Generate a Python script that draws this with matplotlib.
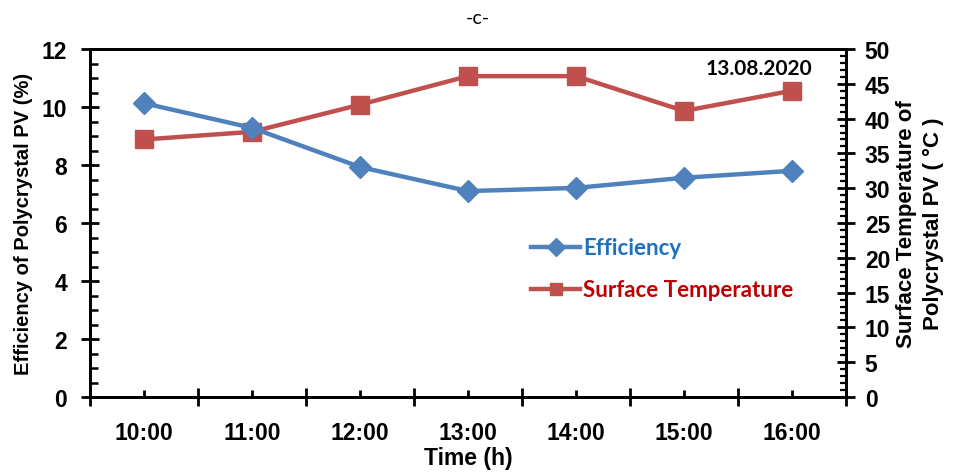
import matplotlib
matplotlib.use("Agg")
import matplotlib.pyplot as plt
from matplotlib.ticker import MultipleLocator, FixedLocator, NullFormatter

times = ["10:00", "11:00", "12:00", "13:00", "14:00", "15:00", "16:00"]
efficiency = [10.13, 9.28, 7.93, 7.10, 7.21, 7.56, 7.80]
surface_temp = [37.0, 38.1, 42.0, 46.1, 46.1, 41.1, 44.0]

plt.rcParams['font.family'] = ['Liberation Sans', 'DejaVu Sans']

fig = plt.figure(figsize=(9.55, 4.77), dpi=100)
ax = fig.add_axes([90/955, 1-398/477, (846-90)/955, (398-50)/477])
ax2 = ax.twinx()

x = list(range(len(times)))
blue = '#4F81BD'
red = '#C0504D'

l1, = ax.plot(x, efficiency, color=blue, lw=3.2, marker='D', ms=11, label='Efficiency', zorder=3)
l2, = ax2.plot(x, surface_temp, color=red, lw=3.2, marker='s', ms=13, label='Surface Temperature', zorder=3)

ax.set_xlim(-0.5, len(times) - 0.5)
ax.set_ylim(0, 12)
ax2.set_ylim(0, 50)

# x ticks: major at boundaries (inout), minor at centers (in) with labels
ax.xaxis.set_major_locator(FixedLocator([i - 0.5 for i in range(len(times) + 1)]))
ax.xaxis.set_major_formatter(NullFormatter())
ax.xaxis.set_minor_locator(FixedLocator(x))
ax.set_xticklabels(times, minor=True)
ax.tick_params(axis='x', which='major', direction='inout', length=13, width=2)
ax.tick_params(axis='x', which='minor', direction='in', length=5, width=2, pad=17,
               labelsize=16.5)
for t in ax.get_xticklabels(minor=True):
    t.set_fontweight('bold')

ax.yaxis.set_major_locator(MultipleLocator(2))
ax.yaxis.set_minor_locator(MultipleLocator(0.5))
ax.tick_params(axis='y', which='major', direction='inout', length=13, width=2, labelsize=16.5, pad=10)
ax.tick_params(axis='y', which='minor', direction='in', length=5.5, width=1.8)
for t in ax.get_yticklabels():
    t.set_fontweight('bold')

ax2.yaxis.set_major_locator(MultipleLocator(5))
ax2.yaxis.set_minor_locator(MultipleLocator(1))
ax2.tick_params(axis='y', which='major', direction='inout', length=13, width=2, labelsize=16.5, pad=7)
ax2.tick_params(axis='y', which='minor', direction='in', length=4.5, width=1.6)
for t in ax2.get_yticklabels():
    t.set_fontweight('bold')

for a in (ax, ax2):
    for s in a.spines.values():
        s.set_linewidth(2)
        s.set_color('black')

ax.set_xlabel('Time (h)', fontsize=16.5, fontweight='bold', labelpad=2)
ax.set_ylabel('Efficiency of Polycrystal PV (%)', fontsize=14.5, fontweight='bold', labelpad=6)
ax2.set_ylabel('Surface Temperature of\nPolycrystal PV ( °C )', fontsize=16, fontweight='bold',
               labelpad=4, linespacing=1.35)

ax.text(0.885, 0.975, '13.08.2020', transform=ax.transAxes, ha='center', va='top',
        fontsize=15, fontweight='bold', family=['Lato', 'DejaVu Sans'])

leg = ax.legend([l1, l2], ['Efficiency', 'Surface Temperature'], loc='center left',
                bbox_to_anchor=(0.557, 0.368), frameon=False, handlelength=2.2,
                handletextpad=0.15, labelspacing=0.95,
                prop={'family': ['Lato', 'DejaVu Sans'], 'weight': 'bold', 'size': 16})
for txt, c in zip(leg.get_texts(), ['#1F6FBF', '#C00000']):
    txt.set_color(c)
for h in leg.legend_handles:
    h.set_markersize(9)

fig.text(0.5, 1 - 18/477, '-c-', ha='center', va='center', fontsize=14,
         family=['Lato', 'DejaVu Sans'])

ax.set_zorder(ax2.get_zorder() + 1)
ax.patch.set_visible(False)

fig.savefig('out.png', dpi=100)
